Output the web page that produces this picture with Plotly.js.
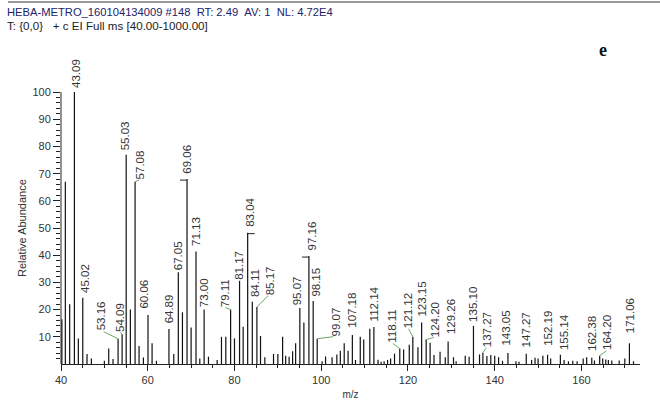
<!DOCTYPE html>
<html>
<head>
<meta charset="utf-8">
<script src="https://cdn.plot.ly/plotly-3.0.1.min.js"></script>
<style>html,body{margin:0;padding:0;background:#fff;}#chart{width:660px;height:400px;}</style>
</head>
<body>
<div id="chart"></div>
<script>
// ---- data ----
const mz = [40.2, 41, 42, 43.09, 44, 45.02, 46, 47, 50, 51, 52, 53.16, 54.09, 55.03, 56, 57.08, 58, 59, 60.06, 61, 62,
  64.89, 66, 67.05, 68, 69.06, 70, 71.13, 72, 73, 74, 76, 77, 78, 79.11, 80, 81.17, 82, 83.04, 84.11, 85.17, 86, 87,
  89, 90, 91.1, 91.8, 92.6, 93.4, 94.1, 95.07, 96, 97.16, 98.15, 99.07, 100.2, 101, 102.5, 103.6, 104.4, 105.3, 106.2,
  107.18, 107.9, 109, 109.8, 111.2, 112.14, 113.1, 113.8, 114.5, 115.3, 116, 116.9, 118.11, 119, 120.3, 121.12, 122.3,
  123.15, 124.2, 125.1, 126, 127.4, 128.6, 129.26, 130.5, 131.1, 133.2, 134.1, 135.1, 136.5, 137.27, 138.2, 139.1, 140,
  140.9, 141.8, 143.05, 144.9, 145.6, 147.27, 148.5, 149.3, 150, 151.1, 152.19, 152.9, 155.14, 156, 157, 158, 159,
  160.4, 161.2, 162.38, 163, 164.2, 164.9, 165.6, 166.2, 167, 168.7, 170, 171.06, 172];
const intensity = [16.5, 67, 22, 100, 9.4, 24.4, 3.7, 2, 1.2, 5.7, 1.8, 9.3, 10.9, 77, 20, 67, 6.6, 2.4, 18, 7.6, 1.2,
  12.9, 3.7, 33.7, 19, 68, 13.4, 41.4, 2, 20, 2.7, 1.5, 10, 10, 20, 9.4, 30.6, 13.7, 48.3, 22.9, 21, 10.3, 2.5,
  3.7, 3.7, 10, 3, 2.7, 4.7, 7.6, 20.6, 15.3, 39.7, 23.2, 9.3, 1, 2.8, 2.5, 3.5, 4.9, 7.6, 4.9,
  10.7, 1.5, 10, 9, 13, 13.6, 1.6, 0.8, 1, 1.5, 2, 3.8, 5.7, 5.3, 7.1, 10, 6.2,
  15.3, 9, 7.8, 3.3, 4.5, 2.5, 8.3, 2.5, 1, 3, 2.7, 14, 3.5, 4.1, 2.9, 3.3, 3,
  2.5, 1.2, 4, 1, 0.8, 3.8, 1.5, 2.3, 2, 3, 3.4, 2, 3.4, 1.5, 1, 1.2, 1,
  2, 2.5, 2.3, 1.3, 3, 2, 1.7, 1.5, 1.3, 1.3, 2, 7.6, 1];
const peakLabels = ['43.09', '45.02', '53.16', '54.09', '55.03', '57.08', '60.06', '64.89', '67.05', '69.06', '71.13',
  '73.00', '79.11', '81.17', '83.04', '84.11', '85.17', '95.07', '97.16', '98.15', '99.07', '107.18', '112.14',
  '118.11', '121.12', '123.15', '124.20', '129.26', '135.10', '137.27', '143.05', '147.27', '152.19', '155.14',
  '162.38', '164.20', '171.06'];
const yTickVals = [10, 20, 30, 40, 50, 60, 70, 80, 90, 100];
const xTickVals = [40, 60, 80, 100, 120, 140, 160];
const headerLine1 = 'HEBA-METRO_160104134009 #148\u00a0\u00a0RT: 2.49\u00a0\u00a0AV: 1\u00a0\u00a0NL: 4.72E4';
const headerLine2 = 'T: {0,0}\u00a0\u00a0\u00a0+ c EI Full ms [40.00-1000.00]';
const panelLetter = 'e';

// ---- label placement style (pixel offsets, leader kind) ----
const labelStyle = {
  '43.09':[1,3], '45.02':[2,4], '53.16':[-17,7,'g'], '54.09':[-2,1,'g'], '55.03':[-1,3], '57.08':[5,1,'g'],
  '60.06':[-4,5], '64.89':[0,5], '67.05':[0,1], '69.06':[0,4,'bl'], '71.13':[0,4], '73.00':[0,1],
  '79.11':[-6,1,'g'], '81.17':[0,0], '83.04':[2,5,'br'], '84.11':[2,4], '85.17':[13,11,'g'], '95.07':[-2,2],
  '97.16':[3,5,'bl'], '98.15':[3,3], '99.07':[19,1,'g'], '107.18':[0,6], '112.14':[0,5], '118.11':[-8,5,'g'],
  '121.12':[-5,8,'g'], '123.15':[0,5], '124.20':[9,1,'g'], '129.26':[3,6], '135.10':[0,3], '137.27':[4,5,'g'],
  '143.05':[-2,7], '147.27':[0,5], '152.19':[1,8], '155.14':[3,4], '162.38':[0,6], '164.20':[8,5,'g'], '171.06':[0,9]
};

const FONT = 'Liberation Sans, Arial, sans-serif';
const TXT = '#333333';
const GREEN = '#66aa66';

const bx = [], by = [];
mz.forEach((m, i) => { bx.push(m, m, null); by.push(0, intensity[i], null); });

const annotations = [];
const shapes = [];
peakLabels.forEach(lbl => {
  const m = parseFloat(lbl);
  const idx = mz.findIndex(v => Math.abs(v - m) < 1e-6);
  const v = intensity[idx];
  const st = labelStyle[lbl] || [0, 3];
  annotations.push({
    x: m, y: v, xref: 'x', yref: 'y', text: lbl, showarrow: false, textangle: -90,
    xanchor: 'center', yanchor: 'bottom', xshift: st[0], yshift: st[1],
    font: {family: FONT, size: 11.5, color: TXT}, borderpad: 0
  });
  if (st[2] === 'g') {
    shapes.push({type: 'line', xref: 'x', yref: 'y', xsizemode: 'pixel', ysizemode: 'pixel',
      xanchor: m, yanchor: v, x0: 0, x1: st[0] * 0.85, y0: 0, y1: Math.max(st[1], 2),
      line: {color: GREEN, width: 1}});
  } else if (st[2] === 'bl' || st[2] === 'br') {
    const s = st[2] === 'bl' ? -1 : 1;
    shapes.push({type: 'line', xref: 'x', yref: 'y', xsizemode: 'pixel', ysizemode: 'pixel',
      xanchor: m, yanchor: v, x0: 0, x1: s * 7, y0: -1, y1: -1,
      line: {color: '#222', width: 1}});
  }
});

// y axis line only from 0 to 100
shapes.push({type: 'line', xref: 'paper', yref: 'y', x0: 0, x1: 0, y0: 0, y1: 100, line: {color: '#222', width: 1}});
// top rule
shapes.push({type: 'line', xref: 'paper', yref: 'paper', x0: (8 - 61) / 579, x1: (660 - 61) / 579,
  y0: (364 - 2) / 304, y1: (364 - 2) / 304, line: {color: '#333', width: 1}});

annotations.push({xref: 'paper', yref: 'paper', x: (5 - 61) / 579, y: (364 - 12) / 304, xanchor: 'left', yanchor: 'middle',
  text: headerLine1, showarrow: false, font: {family: FONT, size: 11.2, color: '#22226a'}});
annotations.push({xref: 'paper', yref: 'paper', x: (5 - 61) / 579, y: (364 - 26) / 304, xanchor: 'left', yanchor: 'middle',
  text: headerLine2, showarrow: false, font: {family: FONT, size: 11.6, color: '#222'}});
annotations.push({xref: 'paper', yref: 'paper', x: (603 - 61) / 579, y: (364 - 50) / 304, xanchor: 'center', yanchor: 'middle',
  text: '<b>' + panelLetter + '</b>', showarrow: false, font: {family: 'Liberation Serif, Times New Roman, serif', size: 18, color: '#111'}});
annotations.push({xref: 'paper', yref: 'y', x: (22 - 61) / 579, y: 50, xanchor: 'center', yanchor: 'middle', textangle: -90,
  text: 'Relative Abundance', showarrow: false, font: {family: FONT, size: 11, color: TXT}});

const minorY = [];
for (let t = 2; t < 100; t += 2) minorY.push(t);

const data = [{
  type: 'scatter', mode: 'lines', x: bx, y: by, line: {color: '#111', width: 1.2},
  hoverinfo: 'skip', showlegend: false, cliponaxis: false
}];

const layout = {
  width: 660, height: 400,
  margin: {l: 61, r: 20, t: 60, b: 36},
  paper_bgcolor: '#fff', plot_bgcolor: '#fff',
  showlegend: false,
  xaxis: {
    range: [40, 173.5], showgrid: false, zeroline: false,
    showline: true, linecolor: '#222', linewidth: 1,
    ticks: 'outside', ticklen: 6, tickcolor: '#222', tickwidth: 1,
    tickmode: 'array', tickvals: xTickVals,
    tickfont: {family: FONT, size: 11, color: TXT},
    minor: {ticks: 'outside', ticklen: 3, tick0: 0, dtick: 5, tickcolor: '#222', showgrid: false},
    title: {text: 'm/z', font: {family: FONT, size: 10, color: TXT}, standoff: 6}
  },
  yaxis: {
    range: [0, 111.8], showgrid: false, zeroline: false, showline: false,
    ticks: 'outside', ticklen: 7, tickcolor: '#222', tickwidth: 1,
    tickmode: 'array', tickvals: yTickVals,
    tickfont: {family: FONT, size: 11, color: TXT},
    minor: {ticks: 'outside', ticklen: 4, tickmode: 'array', tickvals: minorY, tickcolor: '#222', showgrid: false}
  },
  annotations: annotations,
  shapes: shapes
};

Plotly.newPlot('chart', data, layout, {staticPlot: true, displayModeBar: false});
</script>
</body>
</html>
